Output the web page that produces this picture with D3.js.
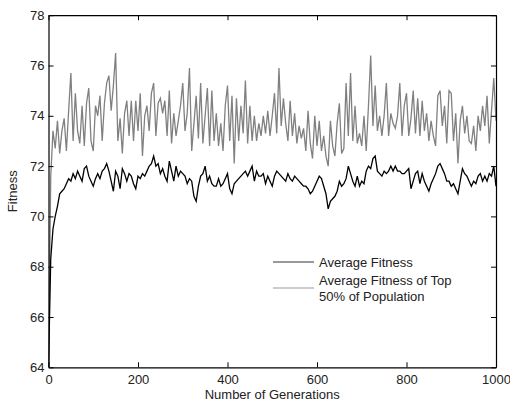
<!DOCTYPE html>
<html>
<head>
<meta charset="utf-8">
<script src="https://cdn.jsdelivr.net/npm/d3@7"></script>
<style>
  body { margin: 0; background: #fff; }
  svg { display: block; font-family: "Liberation Sans", Arial, sans-serif; }
  .axis text { font-size: 13px; fill: #222; }
  .axis path, .axis line { stroke: #000; }
</style>
</head>
<body>
<div id="chart-area"></div>
<script>
// generations sampled every 5 steps (x positions of the readings)
let generations = d3.range(0, 1001, 5);

// average fitness of the whole population
let avgFitness = [
  64.0, 68.3, 69.5, 70.0, 70.4, 70.9, 71.0, 71.1, 71.3, 71.5,
  71.4, 71.7, 71.5, 71.8, 71.6, 71.4, 71.9, 72.0, 71.6, 71.4,
  71.2, 71.5, 71.7, 71.5, 71.8, 71.9, 72.1, 71.8, 71.4, 71.0,
  71.8, 71.6, 71.1, 71.9, 71.7, 71.4, 71.7, 71.6, 71.3, 71.1,
  71.6, 71.5, 71.7, 71.6, 71.8, 72.0, 72.1, 72.4, 72.0, 72.1,
  71.7, 71.9, 71.6, 71.4, 72.2, 71.8, 71.4, 72.0, 71.6, 71.8,
  71.7, 71.6, 71.3, 71.5, 71.4, 70.8, 70.6, 71.2, 71.6, 71.7,
  72.0, 71.4, 71.6, 71.3, 71.2, 71.2, 71.5, 71.2, 71.3, 71.5,
  71.7, 71.1, 70.9, 71.3, 71.4, 71.5, 71.6, 71.7, 71.8, 71.6,
  71.8, 72.0, 71.4, 71.8, 71.6, 71.6, 71.7, 71.3, 71.6, 71.4,
  71.2, 71.6, 71.8, 71.7, 71.6, 71.5, 71.4, 71.7, 71.5, 71.4,
  71.6, 71.5, 71.4, 71.3, 71.2, 71.2, 71.1, 70.9, 71.0, 71.2,
  71.4, 71.6, 71.5, 71.2, 70.9, 70.3, 70.6, 70.7, 70.8, 71.0,
  71.4, 71.2, 71.3, 71.5, 72.0, 71.7, 71.4, 71.2, 71.6, 71.2,
  71.4, 71.3, 71.8, 72.0, 71.9, 72.3, 72.4, 71.8, 71.7, 71.6,
  71.8, 71.7, 71.8, 72.0, 71.8, 72.0, 71.8, 71.8, 71.7, 71.7,
  71.8, 71.9, 71.1, 71.4, 71.7, 71.8, 71.3, 71.7, 71.4, 71.2,
  71.0, 71.3, 71.5, 71.7, 72.0, 72.1, 71.9, 71.7, 71.4, 71.4,
  71.2, 71.3, 71.1, 70.9, 71.4, 71.9, 71.7, 71.6, 71.4, 71.2,
  71.4, 71.3, 71.6, 71.7, 71.4, 71.6, 71.4, 71.7, 71.6, 72.0,
  71.2
];

// average fitness of the top 50% of the population
let topFitness = [
  64.0, 71.6, 73.4, 72.7, 73.8, 72.5, 73.4, 73.9, 72.6, 74.2,
  75.7, 73.0, 74.9, 73.4, 72.9, 74.4, 72.8, 74.5, 75.1, 73.0,
  72.6, 74.4, 74.0, 74.8, 73.0, 74.5, 75.3, 75.6, 74.2, 75.2,
  76.5, 73.0, 73.9, 72.5, 74.1, 74.6, 73.2, 74.6, 73.0, 74.6,
  73.4, 74.9, 72.4, 74.0, 74.4, 73.4, 74.9, 75.3, 73.2, 74.5,
  74.7, 74.1, 74.6, 73.2, 75.0, 72.9, 74.1, 73.2, 73.8, 74.4,
  75.3, 73.4, 74.1, 75.9, 72.6, 73.7, 74.8, 73.1, 75.3, 72.9,
  74.0, 75.1, 72.8, 75.0, 73.0, 74.1, 72.8, 73.7, 72.6, 74.4,
  75.2, 73.0, 74.8, 72.1, 74.7, 73.0, 74.4, 73.3, 75.4, 72.9,
  74.4, 73.0, 74.0, 73.0, 73.7, 73.2, 74.0, 73.3, 74.2, 73.2,
  74.0, 74.9, 73.3, 75.9, 73.6, 74.7, 73.7, 73.0, 74.6, 73.2,
  74.1, 72.9, 73.6, 73.1, 73.5, 72.6, 74.2, 72.9, 72.3, 74.0,
  72.8, 73.8, 72.6, 73.2, 72.4, 72.0, 73.8, 72.8, 72.4, 73.7,
  74.5, 72.5, 72.7, 75.3, 73.2, 75.7, 73.0, 74.4, 72.9, 73.3,
  72.8, 74.0, 72.6, 74.4, 76.4, 73.6, 75.2, 73.4, 74.0, 73.2,
  74.0, 75.3, 73.2, 74.1, 73.7, 73.5, 74.0, 75.3, 73.2, 74.4,
  74.9, 73.2, 73.9, 75.0, 73.3, 74.7, 73.2, 74.6, 73.4, 74.1,
  73.0, 73.8, 73.2, 72.8, 74.8, 75.0, 73.6, 74.4, 72.9, 75.0,
  74.9, 73.0, 74.1, 72.1, 73.8, 74.4, 73.3, 74.0, 73.0, 72.9,
  73.6, 72.6, 74.0, 73.4, 74.4, 73.6, 74.8, 72.9, 74.2, 75.5,
  73.8
];

let xTicks = [0, 200, 400, 600, 800, 1000];
let yTicks = [64, 66, 68, 70, 72, 74, 76, 78];

let legendLabels = [["Average Fitness"], ["Average Fitness of Top", "50% of Population"]];

// plot box
let W = 510, H = 403;
let plot = {left: 48.5, right: 496, top: 15.2, bottom: 367.3};

let svg = d3.select("#chart-area").append("svg")
    .attr("width", W)
    .attr("height", H);

let x = d3.scaleLinear().domain([0, 1000]).range([plot.left, plot.right]);
let y = d3.scaleLinear().domain([64, 78]).range([plot.bottom, plot.top]);

svg.append("clipPath").attr("id", "clip")
  .append("rect")
    .attr("x", plot.left).attr("y", plot.top)
    .attr("width", plot.right - plot.left)
    .attr("height", plot.bottom - plot.top);

// series
let line = values => d3.line()
    .x((d, i) => x(generations[i]))
    .y(d => y(d))(values);

svg.append("path")
    .attr("clip-path", "url(#clip)")
    .attr("d", line(topFitness))
    .attr("fill", "none")
    .attr("stroke", "#808080")
    .attr("stroke-width", 1.3);

svg.append("path")
    .attr("clip-path", "url(#clip)")
    .attr("d", line(avgFitness))
    .attr("fill", "none")
    .attr("stroke", "#000")
    .attr("stroke-width", 1.3);

// axes, ticks pointing inwards
svg.append("g")
    .attr("class", "axis")
    .attr("transform", "translate(0," + plot.bottom + ")")
    .call(d3.axisBottom(x).tickValues(xTicks).tickFormat(d3.format("d"))
      .tickSizeInner(-5).tickSizeOuter(0).tickPadding(7));

svg.append("g")
    .attr("class", "axis")
    .attr("transform", "translate(" + plot.left + ",0)")
    .call(d3.axisLeft(y).tickValues(yTicks).tickSizeInner(-5).tickSizeOuter(0).tickPadding(4));

svg.append("g")
    .attr("class", "axis")
    .attr("transform", "translate(0," + plot.top + ")")
    .call(d3.axisTop(x).tickValues(xTicks).tickSizeInner(-5).tickSizeOuter(0).tickFormat(""));

svg.append("g")
    .attr("class", "axis")
    .attr("transform", "translate(" + plot.right + ",0)")
    .call(d3.axisRight(y).tickValues(yTicks).tickSizeInner(-5).tickSizeOuter(0).tickFormat(""));

svg.selectAll(".axis .domain").attr("stroke-width", 1.2);

// axis titles
svg.append("text")
    .attr("x", (plot.left + plot.right) / 2)
    .attr("y", 399)
    .attr("text-anchor", "middle")
    .attr("font-size", 13)
    .attr("fill", "#222")
    .text("Number of Generations");

svg.append("text")
    .attr("transform", "translate(17," + ((plot.top + plot.bottom) / 2) + ") rotate(-90)")
    .attr("text-anchor", "middle")
    .attr("font-size", 13)
    .attr("fill", "#222")
    .text("Fitness");

// legend
let legend = svg.append("g").attr("transform", "translate(273,262)");
let legendColors = ["#333", "#999"];
let legendRows = [0, 26];

legendLabels.forEach((lines, i) => {
  legend.append("line")
      .attr("x1", 0).attr("x2", 41)
      .attr("y1", legendRows[i]).attr("y2", legendRows[i])
      .attr("stroke", legendColors[i])
      .attr("stroke-width", 1);
  lines.forEach((t, j) => {
    legend.append("text")
        .attr("x", 46)
        .attr("y", (i === 0 ? 4.5 : 23) + j * 16)
        .attr("font-size", 13)
        .attr("fill", "#222")
        .text(t);
  });
});
</script>
</body>
</html>
